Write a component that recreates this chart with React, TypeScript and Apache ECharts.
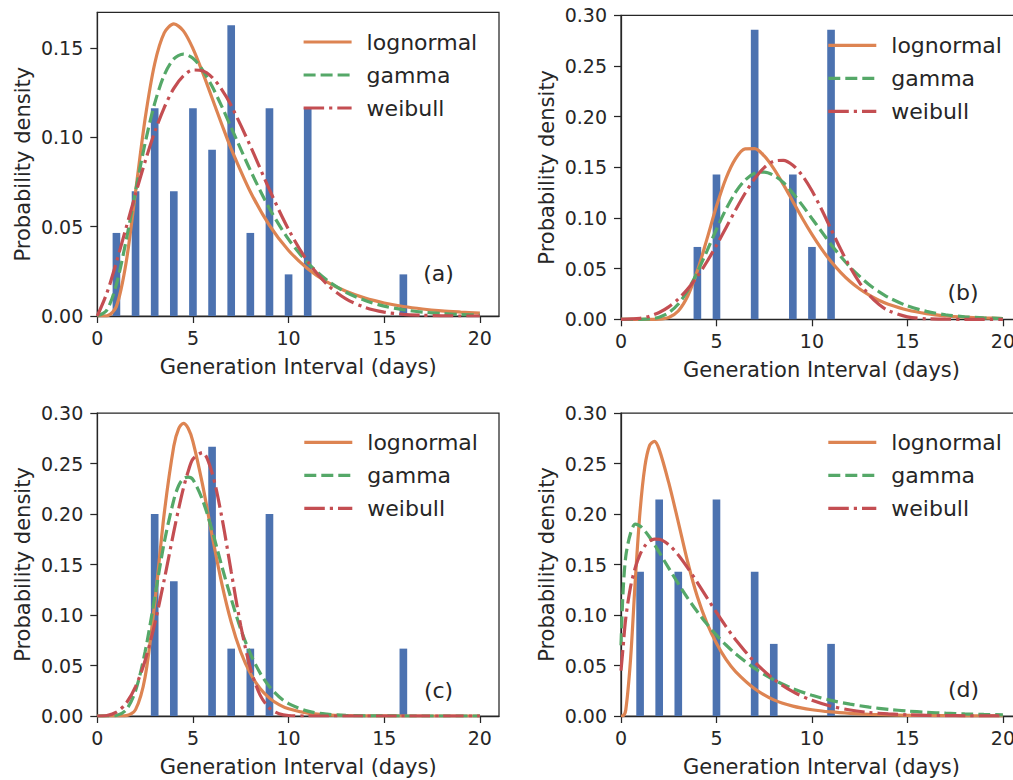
import React, { useEffect, useRef } from "react";
import * as echarts from "echarts";

// ---------- data ----------
const xTickValues = [0, 5, 10, 15, 20];
const yTicksA = [0, 0.05, 0.1, 0.15];
const yTicks030 = [0, 0.05, 0.1, 0.15, 0.2, 0.25, 0.3];
const curveNames = ["lognormal", "gamma", "weibull"];

// histogram (density) per panel
const histXA = [1, 2, 3, 4, 5, 6, 7, 8, 9, 10, 11, 16];
const histYA = [0.0465, 0.0698, 0.1163, 0.0698, 0.1163, 0.093, 0.1628, 0.0465, 0.1163, 0.0233, 0.1163, 0.0233];
const histXB = [4, 5, 7, 9, 10, 11];
const histYB = [0.0714, 0.1429, 0.2857, 0.1429, 0.0714, 0.2857];
const histXC = [3, 4, 6, 7, 8, 9, 16];
const histYC = [0.2, 0.1333, 0.2667, 0.0667, 0.0667, 0.2, 0.0667];
const histXD = [1, 2, 3, 5, 7, 8, 11];
const histYD = [0.1429, 0.2143, 0.1429, 0.2143, 0.1429, 0.0714, 0.0714];

// fitted curves, panel (a)
const curveXA = [0, 0.5, 1, 1.5, 2, 2.5, 3, 3.5, 4, 4.5, 5, 5.5, 6, 6.5, 7, 8, 9, 10, 11, 12, 13, 14, 15, 16, 17, 18, 19, 20];
const lognormA = [0, 0.0001, 0.0054, 0.0295, 0.0696, 0.1104, 0.1412, 0.1585, 0.1635, 0.1596, 0.1497, 0.1365, 0.122, 0.1075, 0.0936, 0.0696, 0.0507, 0.0367, 0.0265, 0.0191, 0.0138, 0.01, 0.0073, 0.0053, 0.0039, 0.0029, 0.0022, 0.0016];
const gammaA = [0, 0.0033, 0.0178, 0.0419, 0.0699, 0.0968, 0.119, 0.1349, 0.1439, 0.1466, 0.1443, 0.1378, 0.1286, 0.1175, 0.1055, 0.0816, 0.0602, 0.0429, 0.0298, 0.0201, 0.0133, 0.0087, 0.0055, 0.0035, 0.0022, 0.0014, 0.0008, 0.0005];
const weibullA = [0, 0.0128, 0.0302, 0.0492, 0.0683, 0.0865, 0.1029, 0.1167, 0.1274, 0.1344, 0.1377, 0.1373, 0.1336, 0.1269, 0.1178, 0.0952, 0.0707, 0.0484, 0.0305, 0.0178, 0.0096, 0.0048, 0.0022, 0.0009, 0.0004, 0.0001, 0, 0];

// panel (b)
const curveXB = [0, 1, 1.5, 2, 2.5, 3, 3.5, 4, 4.5, 5, 5.5, 6, 6.5, 7, 7.5, 8, 8.5, 9, 9.5, 10, 10.5, 11, 11.5, 12, 12.5, 13, 13.5, 14, 15, 16, 17, 18, 19, 20];
const lognormB = [0, 0, 0, 0.0002, 0.0018, 0.0082, 0.0232, 0.0478, 0.0791, 0.1115, 0.1392, 0.1586, 0.1682, 0.1684, 0.1612, 0.1487, 0.1331, 0.1163, 0.0995, 0.0838, 0.0695, 0.057, 0.0464, 0.0373, 0.0299, 0.0238, 0.0188, 0.0149, 0.0092, 0.0056, 0.0034, 0.0021, 0.0013, 0.0008];
const gammaB = [0, 0, 0.0004, 0.0021, 0.0065, 0.0151, 0.0287, 0.0466, 0.0673, 0.0889, 0.1087, 0.1254, 0.1374, 0.1441, 0.1453, 0.142, 0.135, 0.1244, 0.1124, 0.0995, 0.0866, 0.0738, 0.0622, 0.0514, 0.0423, 0.0341, 0.0274, 0.0216, 0.0132, 0.0078, 0.0045, 0.0025, 0.0014, 0.0007];
const weibullB = [0, 0.001, 0.0031, 0.0067, 0.0123, 0.02, 0.03, 0.0424, 0.0568, 0.073, 0.0904, 0.1079, 0.1244, 0.1388, 0.1497, 0.156, 0.1569, 0.152, 0.1417, 0.1268, 0.1086, 0.0889, 0.0693, 0.0513, 0.036, 0.0238, 0.0148, 0.0086, 0.0024, 0.0005, 0.0001, 0, 0, 0];

// panel (c)
const curveXC = [0, 0.5, 1, 1.5, 2, 2.5, 3, 3.5, 4, 4.25, 4.5, 4.75, 5, 5.5, 6, 6.5, 7, 7.5, 8, 8.5, 9, 9.5, 10, 11, 12, 13, 14, 15, 16, 17, 18, 19, 20];
const lognormC = [0, 0, 0, 0.0003, 0.0063, 0.0387, 0.1112, 0.2007, 0.2673, 0.2843, 0.2898, 0.2849, 0.2717, 0.2293, 0.179, 0.1319, 0.093, 0.0634, 0.0422, 0.0275, 0.0177, 0.0112, 0.0071, 0.0028, 0.0011, 0.0004, 0.0002, 0.0001, 0, 0, 0, 0, 0];
const gammaC = [0, 0, 0.0005, 0.0058, 0.025, 0.0637, 0.117, 0.172, 0.214, 0.228, 0.235, 0.2365, 0.234, 0.214, 0.184, 0.149, 0.116, 0.0859, 0.0617, 0.0429, 0.029, 0.0191, 0.0123, 0.0048, 0.0018, 0.0006, 0.0002, 0.0001, 0, 0, 0, 0, 0];
const weibullC = [0, 0.0005, 0.0038, 0.0124, 0.029, 0.055, 0.091, 0.135, 0.1825, 0.205, 0.2255, 0.242, 0.2545, 0.2608, 0.2407, 0.1978, 0.1429, 0.0894, 0.0476, 0.0212, 0.0077, 0.0023, 0.0005, 0, 0, 0, 0, 0, 0, 0, 0, 0, 0];

// panel (d)
const curveXD = [0, 0.1, 0.25, 0.5, 0.75, 1, 1.25, 1.5, 1.75, 2, 2.5, 3, 3.5, 4, 4.5, 5, 5.5, 6, 7, 8, 9, 10, 11, 12, 13, 14, 15, 16, 17, 18, 19, 20];
const lognormD = [0, 0.0002, 0.006, 0.056, 0.135, 0.203, 0.247, 0.268, 0.272, 0.264, 0.231, 0.192, 0.152, 0.118, 0.092, 0.072, 0.056, 0.044, 0.027, 0.016, 0.0098, 0.0062, 0.004, 0.0026, 0.0017, 0.0011, 0.0007, 0.0005, 0.0003, 0.0002, 0.0001, 0.0001];
const gammaD = [0.07, 0.12, 0.158, 0.181, 0.19, 0.188, 0.1833, 0.177, 0.1698, 0.1621, 0.1464, 0.131, 0.1165, 0.1032, 0.091, 0.08, 0.0703, 0.0616, 0.0471, 0.0358, 0.0271, 0.0205, 0.0155, 0.0117, 0.0088, 0.0066, 0.0049, 0.0037, 0.0028, 0.0021, 0.0016, 0.0012];
const weibullD = [0.045, 0.066, 0.097, 0.128, 0.147, 0.16, 0.1684, 0.1732, 0.1752, 0.175, 0.1696, 0.1595, 0.1465, 0.1321, 0.1172, 0.1025, 0.0885, 0.0756, 0.0534, 0.0365, 0.0241, 0.0155, 0.0097, 0.0059, 0.0035, 0.0021, 0.0012, 0.0007, 0.0004, 0.0002, 0.0001, 0.0001];

// ---------- layout / style ----------
const FONT = "DejaVu Sans";
const INK = "#262626";
const BAR_HALF_WIDTH = 0.2;
const LINE_W = 3.2;
const COLORS = { bar: "#4C72B0", lognormal: "#DD8452", gamma: "#55A868", weibull: "#C44E52" };
const DASH = { lognormal: "solid" as any, gamma: [12, 5] as any, weibull: [20.5, 5, 3.2, 5] as any };

const panels = [
  { tag: "(a)", grid: { left: 97.3, top: 12.3, width: 401.7, height: 303.7 }, yMax: 0.17, yTicks: yTicksA,
    hx: histXA, hy: histYA, cx: curveXA, ln: lognormA, ga: gammaA, wb: weibullA,
    tagPos: [438.5, 273], legendPos: [297, 26] },
  { tag: "(b)", grid: { left: 621, top: 15.3, width: 401, height: 304 }, yMax: 0.3, yTicks: yTicks030,
    hx: histXB, hy: histYB, cx: curveXB, ln: lognormB, ga: gammaB, wb: weibullB,
    tagPos: [963, 292], legendPos: [821.7, 29.3] },
  { tag: "(c)", grid: { left: 97.3, top: 413, width: 401.7, height: 303 }, yMax: 0.3, yTicks: yTicks030,
    hx: histXC, hy: histYC, cx: curveXC, ln: lognormC, ga: gammaC, wb: weibullC,
    tagPos: [438.5, 690], legendPos: [297.7, 426.3] },
  { tag: "(d)", grid: { left: 621, top: 413, width: 401, height: 303 }, yMax: 0.3, yTicks: yTicks030,
    hx: histXD, hy: histYD, cx: curveXD, ln: lognormD, ga: gammaD, wb: weibullD,
    tagPos: [963.5, 689], legendPos: [821.7, 426.3] },
];

function buildOption() {
  const grids: any[] = [];
  const xAxes: any[] = [];
  const yAxes: any[] = [];
  const series: any[] = [];
  const legends: any[] = [];
  const graphics: any[] = [];

  panels.forEach((p, i) => {
    grids.push({ ...p.grid, show: true, borderColor: INK, borderWidth: 1.25, backgroundColor: "transparent" });
    xAxes.push({
      type: "value", gridIndex: i, min: 0, max: 21, interval: 5,
      axisLine: { show: true, onZero: false, lineStyle: { color: INK, width: 1.25 } },
      axisTick: { show: true, length: 7, lineStyle: { color: INK, width: 1.25 }, customValues: xTickValues },
      axisLabel: { fontSize: 19, color: INK, fontFamily: FONT, margin: 12, customValues: xTickValues },
      splitLine: { show: false },
      name: "Generation Interval (days)", nameLocation: "middle", nameGap: 40,
      nameTextStyle: { fontSize: 21, color: INK, fontFamily: FONT },
    });
    yAxes.push({
      type: "value", gridIndex: i, min: 0, max: p.yMax, interval: 0.05,
      axisLine: { show: true, onZero: false, lineStyle: { color: INK, width: 1.25 } },
      axisTick: { show: true, length: 7, lineStyle: { color: INK, width: 1.25 }, customValues: p.yTicks },
      axisLabel: { fontSize: 19, color: INK, fontFamily: FONT, margin: 14, customValues: p.yTicks,
        formatter: (v: number) => v.toFixed(2) },
      splitLine: { show: false },
      name: "Probability density", nameLocation: "middle", nameGap: 64,
      nameTextStyle: { fontSize: 21, color: INK, fontFamily: FONT },
    });

    series.push({
      type: "custom", name: "observed", xAxisIndex: i, yAxisIndex: i, z: 1,
      data: p.hx.map((x, j) => [x, p.hy[j]]),
      encode: { x: 0, y: 1 },
      renderItem: (_params: any, api: any) => {
        const x = api.value(0);
        const y = api.value(1);
        const tl = api.coord([x - BAR_HALF_WIDTH, y]);
        const br = api.coord([x + BAR_HALF_WIDTH, 0]);
        return {
          type: "rect",
          shape: { x: tl[0], y: tl[1], width: br[0] - tl[0], height: br[1] - tl[1] },
          style: { fill: COLORS.bar },
        };
      },
    });

    const curves = [
      { name: "lognormal", ys: p.ln, color: COLORS.lognormal, type: DASH.lognormal },
      { name: "gamma", ys: p.ga, color: COLORS.gamma, type: DASH.gamma },
      { name: "weibull", ys: p.wb, color: COLORS.weibull, type: DASH.weibull },
    ];
    curves.forEach((c) => {
      series.push({
        type: "line", name: c.name, xAxisIndex: i, yAxisIndex: i, z: 3,
        data: p.cx.map((x, j) => [x, c.ys[j]]),
        showSymbol: false, symbol: "none", smooth: 0.3,
        lineStyle: { color: c.color, width: LINE_W, type: c.type },
        itemStyle: { color: c.color },
      });
    });

    legends.push({
      data: curveNames, orient: "vertical", left: p.legendPos[0], top: p.legendPos[1],
      itemWidth: 48, itemHeight: 14, itemGap: 11, selectedMode: false,
      itemStyle: { opacity: 0 },
      lineStyle: { width: LINE_W },
      textStyle: { fontSize: 22, color: INK, fontFamily: FONT, padding: [0, 0, 0, 10] },
    });

    graphics.push({
      type: "text", x: p.tagPos[0], y: p.tagPos[1], z: 10,
      style: { text: p.tag, fontSize: 22, fontFamily: FONT, fill: INK, align: "center", verticalAlign: "middle" },
    });
  });

  return {
    animation: false,
    backgroundColor: "#ffffff",
    textStyle: { fontFamily: FONT },
    grid: grids, xAxis: xAxes, yAxis: yAxes, series, legend: legends, graphic: graphics,
  };
}

export default function App() {
  const ref = useRef<HTMLDivElement>(null);
  useEffect(() => {
    if (!ref.current) return;
    const chart = echarts.init(ref.current, undefined, { renderer: "svg" });
    chart.setOption(buildOption() as any);
    return () => chart.dispose();
  }, []);
  return (
    <div style={{ position: "fixed", left: 0, top: 0, width: 1013, height: 780, overflow: "hidden", background: "#fff" }}>
      <div ref={ref} style={{ width: 1040, height: 780 }} />
    </div>
  );
}
